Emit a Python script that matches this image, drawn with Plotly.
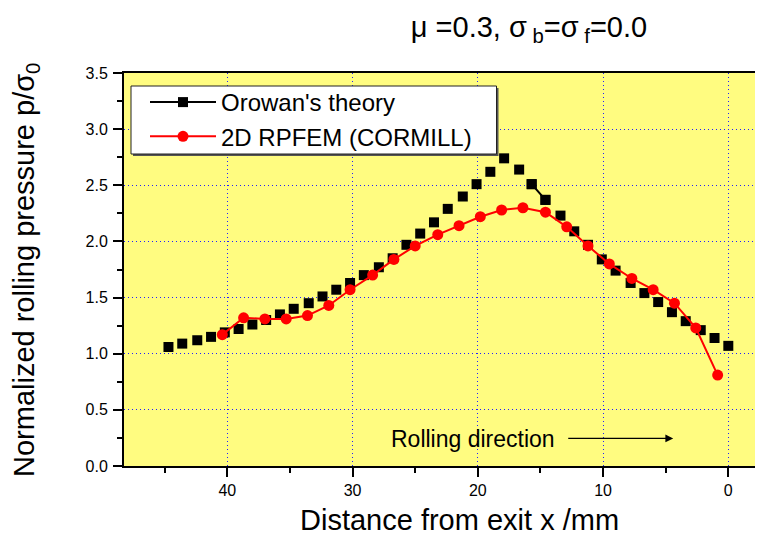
import plotly.graph_objects as go

# ---- data ----
orowan_x = [44.7, 43.6, 42.4, 41.3, 40.2, 39.1, 38.0, 36.9, 35.8, 34.7, 33.5, 32.4, 31.3, 30.2,
            29.1, 27.9, 26.8, 25.7, 24.6, 23.5, 22.4, 21.2, 20.1, 19.0, 17.9, 16.7, 15.7, 14.6,
            13.4, 12.3, 11.2, 10.1, 9.0, 7.8, 6.7, 5.6, 4.5, 3.4, 2.2, 1.1, 0.0]
orowan_y = [1.06, 1.09, 1.12, 1.15, 1.19, 1.22, 1.26, 1.30, 1.35, 1.40, 1.45, 1.51, 1.57, 1.63,
            1.70, 1.77, 1.85, 1.97, 2.07, 2.17, 2.29, 2.40, 2.51, 2.62, 2.74, 2.64, 2.51, 2.37,
            2.23, 2.09, 1.97, 1.84, 1.74, 1.63, 1.54, 1.46, 1.37, 1.29, 1.21, 1.14, 1.07]

fem_x = [40.4, 38.7, 37.0, 35.3, 33.6, 31.9, 30.2, 28.4, 26.7, 25.0, 23.2, 21.5, 19.8, 18.1,
         16.4, 14.6, 12.9, 11.2, 9.5, 7.7, 6.0, 4.3, 2.6, 0.85]
fem_y = [1.17, 1.32, 1.31, 1.31, 1.34, 1.43, 1.57, 1.70, 1.84, 1.96, 2.06, 2.14, 2.22, 2.28,
         2.30, 2.26, 2.13, 1.96, 1.80, 1.67, 1.57, 1.45, 1.23, 0.81]

x_ticks = [0, 10, 20, 30, 40]
y_ticks = [0.0, 0.5, 1.0, 1.5, 2.0, 2.5, 3.0, 3.5]

FONT = "Arial, 'Liberation Sans', sans-serif"

# the page body has an 8px margin, so the figure is 8px smaller than the window
OFF = 8
W, H = 763 - OFF, 538 - OFF
ML, MR, MT = 124 - OFF, 0, 73 - OFF
MB = H - (466 - OFF)
PW, PH = W - ML - MR, H - MT - MB


def px(xw):
    """window x pixel -> paper fraction"""
    return (xw - OFF - ML) / PW


def py(yw):
    """window y pixel -> paper fraction"""
    return (H - MB - (yw - OFF)) / PH


fig = go.Figure()

# Orowan squares (markers only in the plot)
fig.add_trace(go.Scatter(
    x=orowan_x, y=orowan_y, mode="markers", showlegend=False,
    marker=dict(symbol="square", size=10, color="black"),
    hoverinfo="skip"))
# the visible connecting segment of Orowan's curve + legend entry
fig.add_trace(go.Scatter(
    x=orowan_x[26:28], y=orowan_y[26:28], mode="lines+markers",
    name="Orowan's theory",
    line=dict(color="black", width=2),
    marker=dict(symbol="square", size=10, color="black")))
fig.add_trace(go.Scatter(
    x=fem_x, y=fem_y, mode="lines+markers", name="2D RPFEM (CORMILL)",
    line=dict(color="#ff0000", width=2),
    marker=dict(symbol="circle", size=11, color="#ff0000")))

grid_color = "#2020ff"

fig.update_layout(
    template="none",
    width=W, height=H,
    margin=dict(l=ML, r=MR, t=MT, b=MB, pad=0),
    paper_bgcolor="white",
    plot_bgcolor="#FFFC80",
    font=dict(family=FONT, color="black"),
    showlegend=True,
    legend=dict(
        x=px(145), y=py(80), xanchor="left", yanchor="top",
        bgcolor="rgba(0,0,0,0)", borderwidth=0,
        font=dict(size=24, family=FONT),
        itemwidth=66, tracegroupgap=0,
    ),
    title=dict(
        text="\u03bc =0.3, \u03c3<sub> b</sub>=\u03c3<sub> f</sub>=0.0",
        x=(529 - OFF) / W, xanchor="center", xref="container",
        y=1 - (27 - OFF) / H, yanchor="middle", yref="container",
        font=dict(size=29, family=FONT),
    ),
    xaxis=dict(
        range=[48.25, -2.77], automargin=False,
        tickmode="array", tickvals=x_ticks, ticktext=[str(v) for v in x_ticks],
        ticks="outside", ticklen=9, tickwidth=1.5, tickcolor="black",
        ticklabelstandoff=0,
        tickfont=dict(size=16, family=FONT),
        showline=True, linecolor="black", linewidth=2, mirror=True,
        showgrid=True, gridcolor=grid_color, gridwidth=1, griddash="1px,3px",
        zeroline=False,
        minor=dict(tickvals=[5, 15, 25, 35, 45], ticks="outside", ticklen=5,
                   tickwidth=1.5, tickcolor="black", showgrid=False),
    ),
    yaxis=dict(
        range=[0, 3.5], automargin=False,
        tickmode="array", tickvals=y_ticks, ticktext=[f"{v:.1f}" for v in y_ticks],
        ticks="outside", ticklen=9, tickwidth=1.5, tickcolor="black",
        ticklabelstandoff=2,
        tickfont=dict(size=16, family=FONT),
        showline=True, linecolor="black", linewidth=2, mirror=False,
        showgrid=True, gridcolor=grid_color, gridwidth=1, griddash="1px,3px",
        zeroline=False,
        minor=dict(dtick=0.25, ticks="outside", ticklen=5,
                   tickwidth=1.5, tickcolor="black", showgrid=False),
    ),
    shapes=[
        # legend shadow and box
        dict(type="rect", xref="paper", yref="paper", layer="above",
             x0=px(133), x1=px(498.5), y0=py(156), y1=py(88),
             fillcolor="#555555", line=dict(width=0)),
        dict(type="rect", xref="paper", yref="paper", layer="above",
             x0=px(131), x1=px(496.5), y0=py(154), y1=py(86),
             fillcolor="white", line=dict(color="#222222", width=1)),
    ],
    annotations=[
        dict(text="Normalized rolling pressure p/\u03c3<sub>0</sub>",
             xref="paper", yref="paper", x=px(26), y=py(270),
             xanchor="center", yanchor="middle", textangle=-90,
             showarrow=False, font=dict(size=29, family=FONT)),
        dict(text="Distance from exit x /mm", xref="paper", yref="paper",
             x=px(459), y=py(519.5), xanchor="center", yanchor="middle",
             showarrow=False, font=dict(size=29, family=FONT)),
        dict(text="Rolling direction", xref="x", yref="y", x=20.4, y=0.242,
             xanchor="center", yanchor="middle", showarrow=False,
             font=dict(size=23, family=FONT)),
        dict(text="", xref="x", yref="y", x=4.4, y=0.246,
             axref="x", ayref="y", ax=12.9, ay=0.246,
             showarrow=True, arrowhead=2, arrowsize=1.2, arrowwidth=1.3,
             arrowcolor="black"),
    ],
)

fig.write_html("out.html")
